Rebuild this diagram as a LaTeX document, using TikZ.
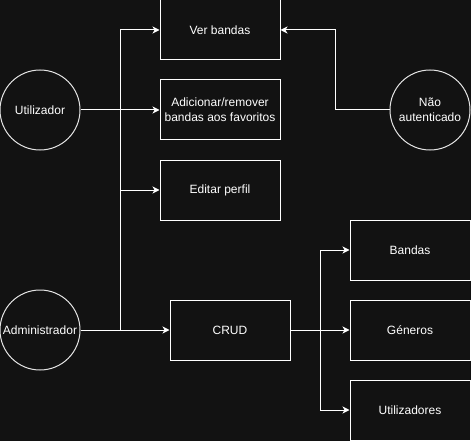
\documentclass[tikz,border=0pt]{standalone}
\usepackage{fontspec}
\setmainfont{Liberation Sans}
\usetikzlibrary{arrows.meta}
\definecolor{bg}{HTML}{121212}
\begin{document}
\begin{tikzpicture}[x=1pt,y=-1pt,
  every node/.style={font=\fontsize{12}{15}\selectfont, text=white},
  box/.style={draw=white, line width=1pt, minimum width=120pt, minimum height=60pt, inner sep=0pt, align=center, anchor=center},
  actor/.style={circle, draw=white!90!black, line width=1pt, minimum size=80pt, inner sep=0pt, align=center},
  conn/.style={draw=white, line width=1pt, -{Stealth[length=7pt,width=7pt,inset=2pt]}},
  plain/.style={draw=white, line width=1pt}]
\fill[bg] (0,0) rectangle (471,441);
\useasboundingbox (0,0) rectangle (471,441);
% boxes
\node[box] (ver) at (220,30) {Ver bandas};
\node[box] (fav) at (220,110) {Adicionar/remover\\bandas aos favoritos};
\node[box] (edit) at (220,190) {Editar perfil};
\node[box] (crud) at (230,330) {CRUD};
\node[box] (bandas) at (410,250) {Bandas};
\node[box] (gen) at (410,330) {Géneros};
\node[box] (utils) at (410,410) {Utilizadores};
% actors
\node[actor] (util) at (40,110) {Utilizador};
\node[actor] (nao) at (430,110) {Não\\autenticado};
\node[actor] (admin) at (40,330) {Administrador};
% junction coordinates
\coordinate (ja) at (120,330);
\coordinate (ju) at (120,110);
\coordinate (jc) at (320,330);
% connectors
\draw[conn] (util) -- (fav);
\draw[conn] (ju) |- (ver);
\draw[conn] (ju) |- (edit);
\draw[conn] (admin) -- (crud);
\draw[plain] (ja) -- (ju);
\draw[conn] (nao.west) -- (335,110) |- (ver.east);
\draw[conn] (crud) -- (gen);
\draw[conn] (jc) |- (bandas.west);
\draw[conn] (jc) |- (utils.west);
\end{tikzpicture}
\end{document}
